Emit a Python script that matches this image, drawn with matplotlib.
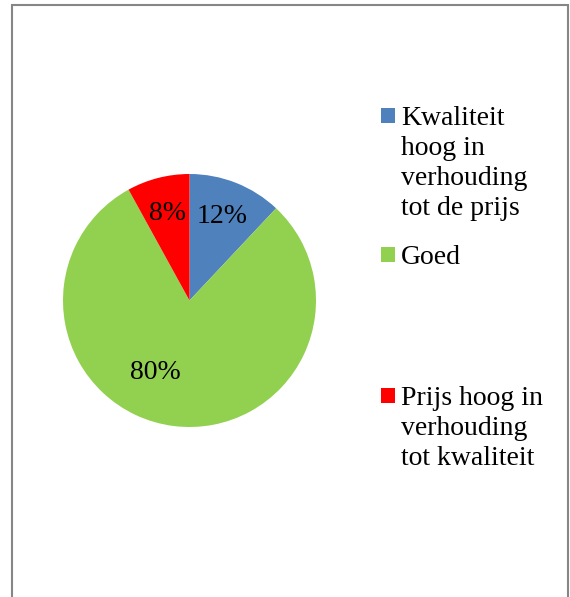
import numpy as np
import matplotlib.pyplot as plt
from matplotlib.patches import Rectangle

labels = ['Kwaliteit\nhoog in\nverhouding\ntot de prijs', 'Goed', 'Prijs hoog in\nverhouding\ntot kwaliteit']
values = [12, 80, 8]
colors = ['#4F81BD', '#92D050', '#FF0000']

plt.rcParams['font.family'] = ['Liberation Serif', 'DejaVu Serif']

W, H = 570, 597
fig = plt.figure(figsize=(W / 100, H / 100), dpi=100)

# outer chart border (bottom runs off the picture)
fig.patches.append(Rectangle((11.5 / W, -0.1), (567.5 - 11.5) / W, 1.1 - 4.5 / H,
                             transform=fig.transFigure, fill=False,
                             edgecolor='#868686', linewidth=1.5))

cx, cy, r = 189.5, 300.5, 126.5
ax = fig.add_axes([(cx - r) / W, (H - cy - r) / H, 2 * r / W, 2 * r / H])
wedges, texts, autotexts = ax.pie(values, colors=colors, startangle=90, counterclock=False,
                                  autopct='%1.0f%%', pctdistance=0.71,
                                  textprops={'fontsize': 20, 'color': 'black'})
ax.set_xlim(-1, 1)
ax.set_ylim(-1, 1)
ax.set_aspect('equal')
ax.axis('off')

# Excel puts the big slice label lower left
ang = np.deg2rad(244.5)
autotexts[1].set_position((0.63 * np.cos(ang), 0.63 * np.sin(ang)))

# legend entries, placed like the Excel legend
tops = [108, 247, 388]
for lab, col, y in zip(labels, colors, tops):
    fig.patches.append(Rectangle((380.5 / W, 1 - (y + 14.5) / H), 14.5 / W, 14.5 / H,
                                 transform=fig.transFigure, color=col, linewidth=0))
    fig.text(401 / W, 1 - (y - 2) / H, lab, fontsize=20, va='top', ha='left',
             linespacing=1.27)

fig.savefig('out.png', dpi=100)
